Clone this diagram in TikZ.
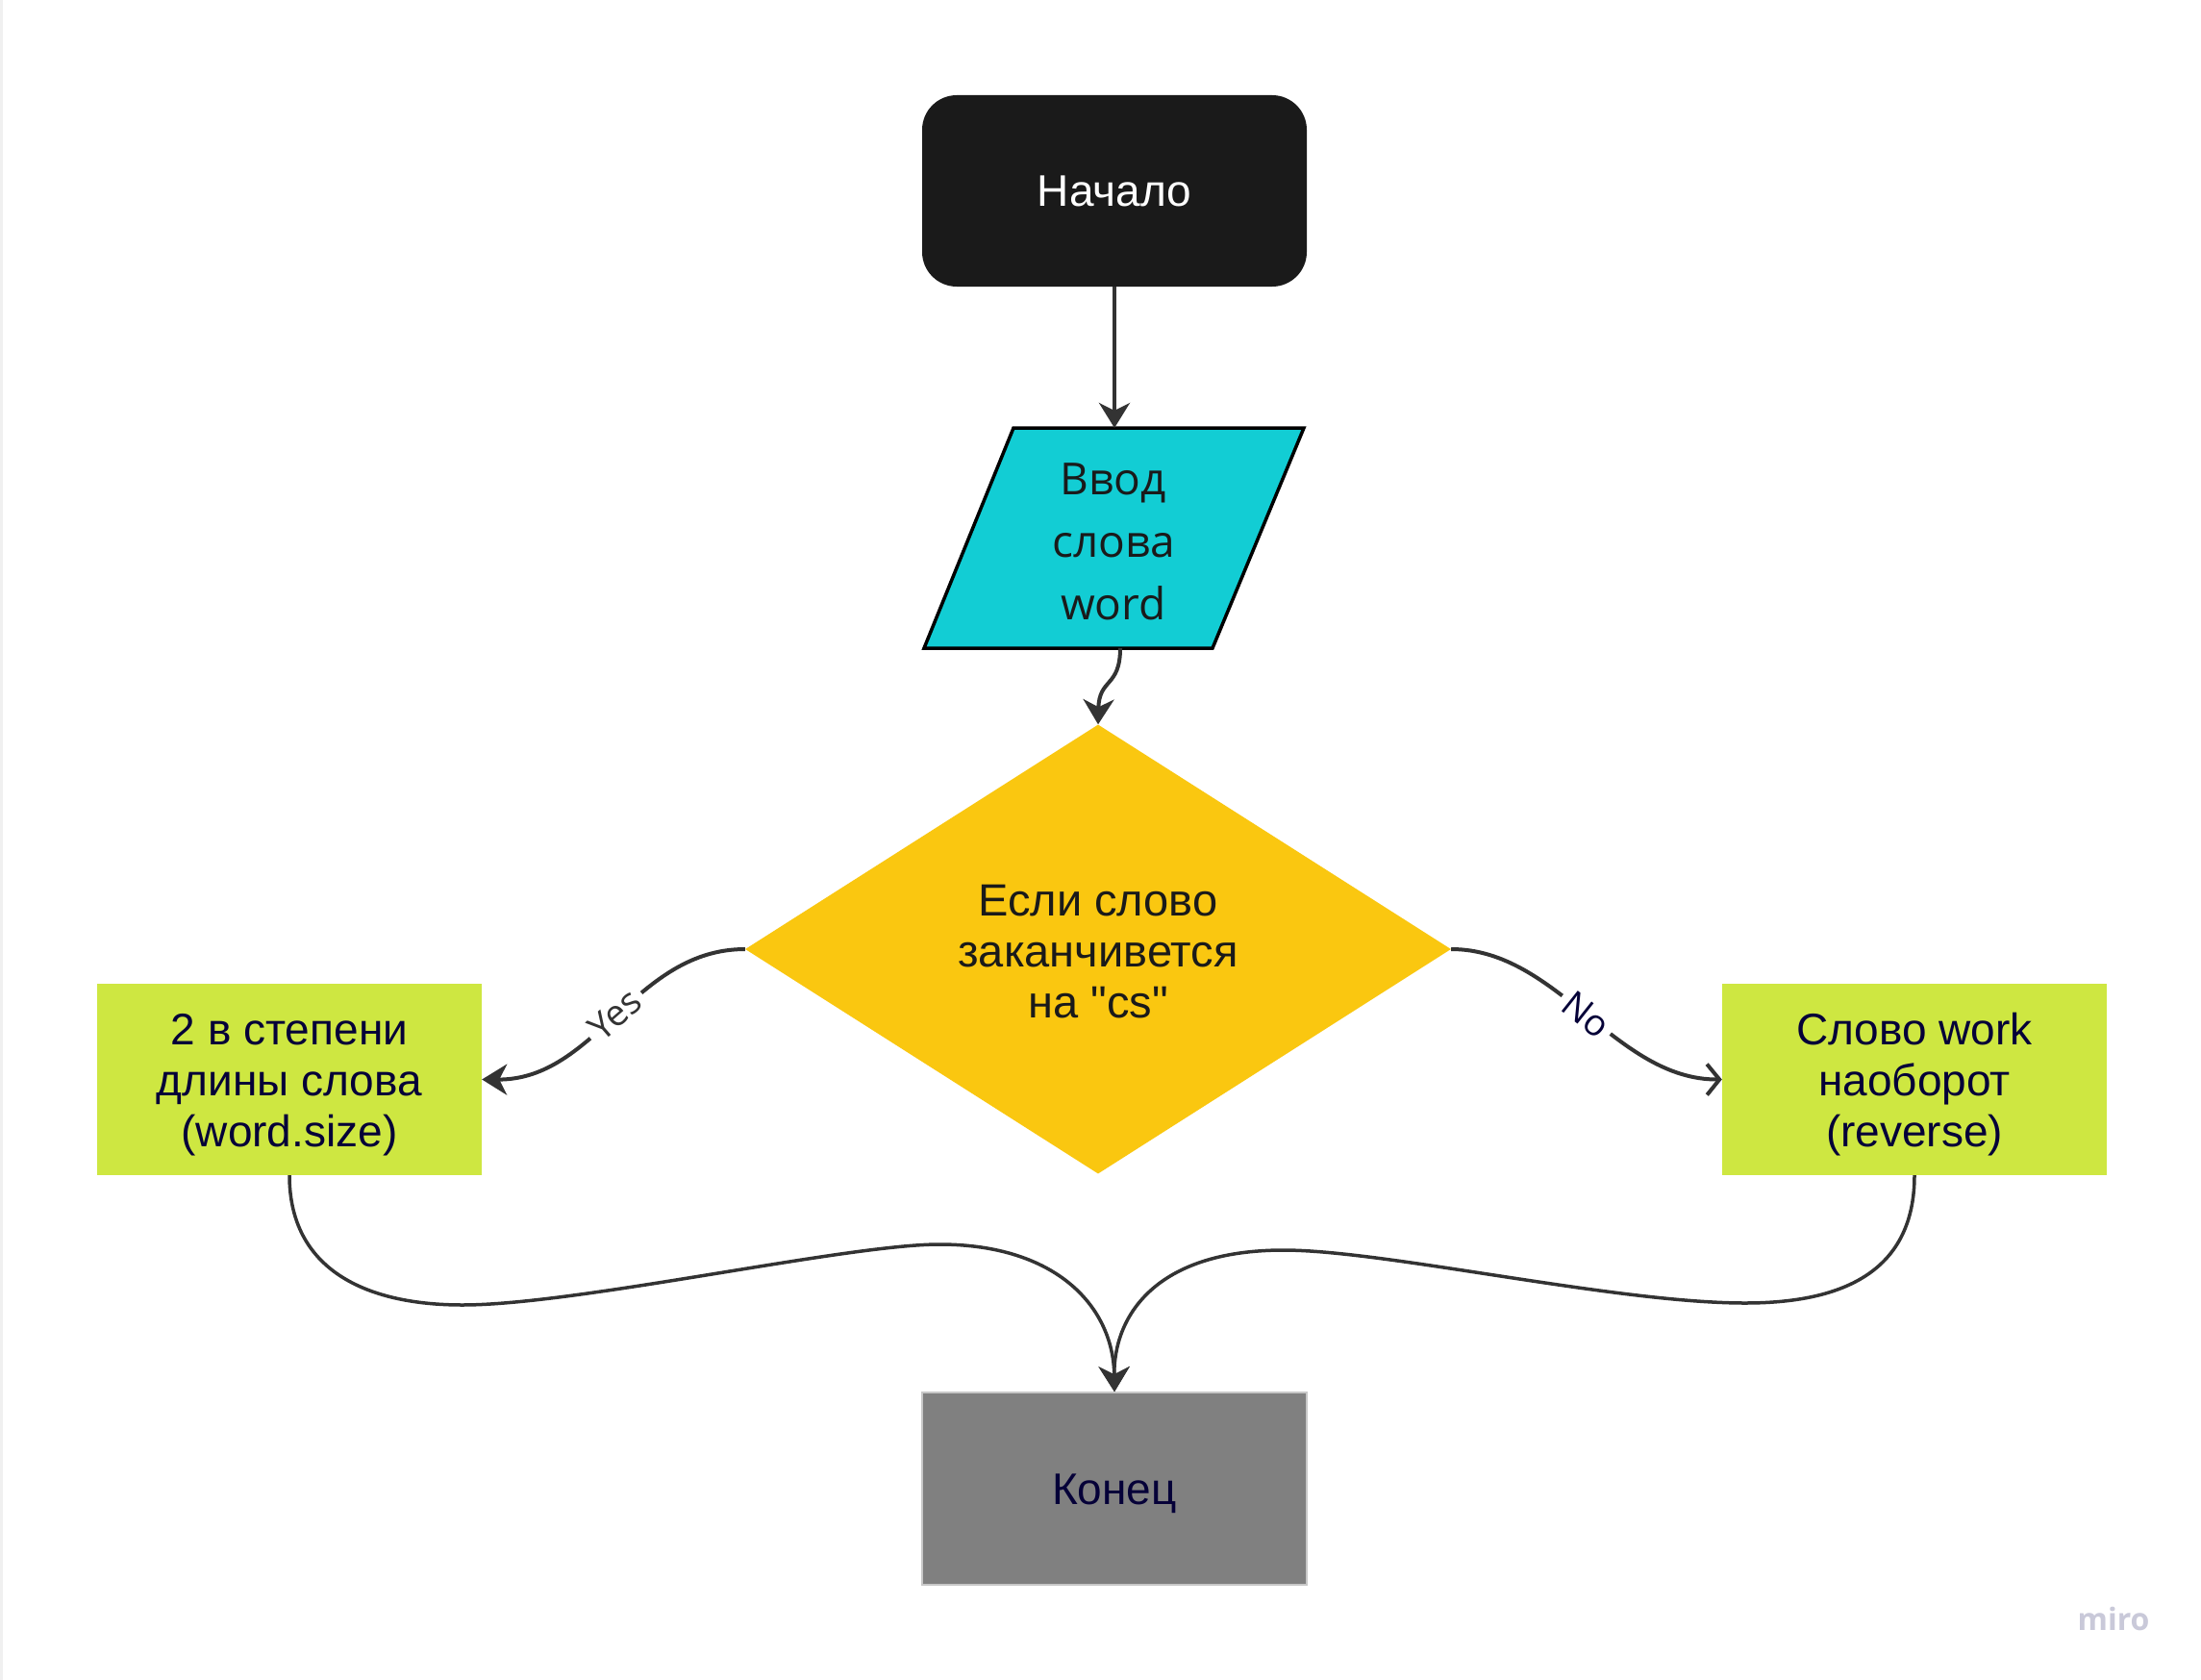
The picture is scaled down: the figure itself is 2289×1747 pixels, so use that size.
\documentclass[tikz,border=0pt]{standalone}
\usepackage{fontspec}
\setmainfont[Ligatures=TeXOff]{Liberation Sans}
\newfontfamily\osans{Open Sans}
\usetikzlibrary{arrows.meta,shapes.geometric}
\definecolor{startc}{HTML}{1A1A1A}
\definecolor{inputc}{HTML}{12CDD4}
\definecolor{decc}{HTML}{FAC710}
\definecolor{boxc}{HTML}{CEE741}
\definecolor{endc}{HTML}{808080}
\definecolor{endb}{HTML}{C8C8C8}
\definecolor{linec}{HTML}{333333}
\definecolor{textdark}{HTML}{1A1A1A}
\definecolor{navy}{HTML}{050038}
\definecolor{miroc}{HTML}{C9C9D9}
\begin{document}
\begin{tikzpicture}[x=1pt,y=-1pt,
  conn/.style={draw=linec, line width=4pt},
  fillhead/.style={-{Stealth[length=26pt,width=32pt,inset=8pt]}},
  openhead/.style={-{Straight Barb[length=13pt,width=32pt]}},
  txt/.style={font=\fontsize{46}{53}\selectfont, align=center},
  lbl/.style={fill=white, inner sep=6pt, sloped, pos=0.5, font=\osans\fontsize{38}{38}\selectfont},
  ]
\useasboundingbox[fill=white] (0,0) rectangle (2289,1747);
\draw[draw=gray!12, line width=3pt] (1.5,0) -- (1.5,1747);

% nodes
\node[fill=startc, rounded corners=36pt, minimum width=400pt, minimum height=199pt,
      inner sep=0pt, txt, text=white] (start) at (1159,198.5) {Начало};

\draw[fill=inputc, draw=black, line width=3.5pt, line join=miter]
  (1054,445) -- (1356,445) -- (1261,674) -- (961,674) -- cycle;
\node[align=center, font=\osans\fontsize{46}{65}\selectfont, text=textdark] (input) at (1158,563) {Ввод\\слова\\word};
\coordinate (inTop) at (1159,445);
\coordinate (inBot) at (1165,674);

\node[diamond, shape aspect=1.6, fill=decc, minimum width=734pt, minimum height=467pt,
      inner sep=0pt, txt, font=\fontsize{47}{53}\selectfont, text=textdark] (dec) at (1142,987)
      {\rule{0pt}{38pt}Если слово\\заканчивется\\на "cs"};

\node[fill=boxc, minimum width=400pt, minimum height=199pt, inner sep=0pt, txt, text=navy]
  (yes) at (301,1122.5) {\rule{0pt}{44pt}2 в степени\\длины слова\\(word.size)};
\node[fill=boxc, minimum width=400pt, minimum height=199pt, inner sep=0pt, txt, text=navy]
  (no) at (1991,1122.5) {\rule{0pt}{44pt}Слово work\\наоборот\\(reverse)};

\node[fill=endc, draw=endb, line width=1.5pt, minimum width=400pt, minimum height=200pt,
      inner sep=0pt, txt, text=navy] (end) at (1159,1548) {\rule{0pt}{42pt}Конец};

\node[font=\osans\bfseries\fontsize{32}{32}\selectfont, text=miroc] (miro) at (2198,1683) {miro};

% connectors
\draw[conn, fillhead] (start.south) -- (inTop);
\draw[conn, fillhead] (inBot) .. controls (1165,715) and (1143,705) .. (dec.north);
\draw[conn, fillhead] (dec.west) .. controls (660,987) and (620,1123) .. (yes.east)
  node[lbl, text=linec] {Yes};
\draw[conn, openhead] (dec.east) .. controls (1620,987) and (1680,1123) .. (no.west)
  node[lbl, text=navy] {No};
\draw[conn, line width=3.5pt, fillhead] (yes.south) .. controls (301,1320) and (380,1357) .. (481,1357)
  .. controls (600,1357) and (880,1294) .. (977,1294)
  .. controls (1100,1294) and (1158,1360) .. (end.north);
\draw[conn, line width=3.5pt, fillhead] (no.south) .. controls (1991,1320) and (1920,1355) .. (1815,1355)
  .. controls (1680,1355) and (1440,1300) .. (1335,1300)
  .. controls (1200,1300) and (1158,1370) .. (end.north);
\end{tikzpicture}
\end{document}
